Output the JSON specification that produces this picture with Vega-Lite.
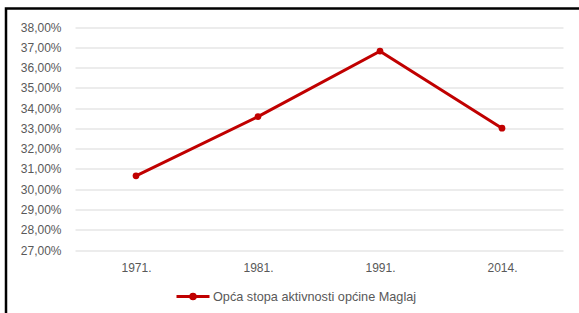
{
  "$schema": "https://vega.github.io/schema/vega-lite/v6.json",
  "autosize": {"type": "none"},
  "padding": {"left": 6, "top": 8.5, "right": 0, "bottom": 0},
  "width": 573,
  "height": 305,
  "background": "#ffffff",
  "config": {
    "font": "Liberation Sans",
    "view": {"stroke": "#000000", "strokeWidth": 2.5, "strokeDash": [573, 878, 305]}
  },
  "data": {
    "values": [
      {"godina": "1971.", "stopa": 0.3066, "serija": "Opća stopa aktivnosti općine Maglaj"},
      {"godina": "1981.", "stopa": 0.3358, "serija": "Opća stopa aktivnosti općine Maglaj"},
      {"godina": "1991.", "stopa": 0.3681, "serija": "Opća stopa aktivnosti općine Maglaj"},
      {"godina": "2014.", "stopa": 0.3301, "serija": "Opća stopa aktivnosti općine Maglaj"}
    ]
  },
  "mark": {
    "type": "line",
    "strokeWidth": 3,
    "point": {"filled": true, "size": 45}
  },
  "encoding": {
    "x": {
      "field": "godina",
      "type": "ordinal",
      "sort": null,
      "scale": {"type": "point", "range": [69, 557], "padding": 0.5},
      "axis": {
        "title": null,
        "labelAngle": 0,
        "ticks": false,
        "domain": false,
        "grid": false,
        "offset": -63,
        "labelPadding": 12,
        "labelFontSize": 12,
        "labelColor": "#595959"
      }
    },
    "y": {
      "field": "stopa",
      "type": "quantitative",
      "scale": {"domain": [0.27, 0.38], "range": [241.5, 18.5], "nice": false, "zero": false},
      "axis": {
        "title": null,
        "values": [0.27, 0.28, 0.29, 0.30, 0.31, 0.32, 0.33, 0.34, 0.35, 0.36, 0.37, 0.38],
        "labelExpr": "replace(format(datum.value, '.2%'), '.', ',')",
        "ticks": false,
        "domain": false,
        "grid": true,
        "gridColor": "#d9d9d9",
        "gridWidth": 1,
        "offset": -56,
        "labelPadding": 1,
        "labelFontSize": 12,
        "labelColor": "#595959"
      }
    },
    "color": {
      "field": "serija",
      "type": "nominal",
      "scale": {"range": ["#c00000"]},
      "legend": {
        "title": null,
        "orient": "none",
        "legendX": 169,
        "legendY": 270,
        "symbolType": "M-1,0L1,0M0.14,0A0.14,0.14,0,1,1,-0.14,0A0.14,0.14,0,1,1,0.14,0Z",
        "symbolSize": 1089,
        "symbolStrokeWidth": 3,
        "symbolStrokeColor": "#c00000",
        "labelFontSize": 12.7,
        "labelLimit": 0,
        "labelColor": "#595959",
        "labelOffset": 2
      }
    }
  }
}
